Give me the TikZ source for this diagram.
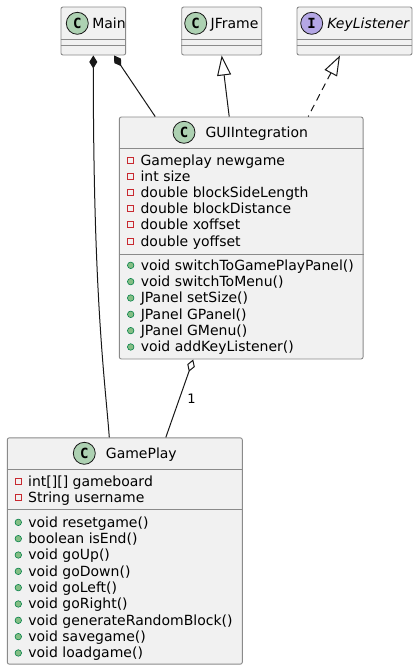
\documentclass[tikz,border=0pt]{standalone}
\usepackage{fontspec}
\setmainfont{DejaVu Sans}
\setmonofont{DejaVu Sans Mono}
\usetikzlibrary{arrows.meta}
\usetikzlibrary{positioning}
\definecolor{boxfill}{HTML}{F1F1F1}
\definecolor{boxline}{HTML}{8A8A8A}
\definecolor{lineclr}{HTML}{181818}
\definecolor{classclr}{HTML}{ADD1B2}
\definecolor{ifaceclr}{HTML}{B4A7E5}
\definecolor{privclr}{HTML}{C82930}
\definecolor{pubclr}{HTML}{038048}
\definecolor{pubfill}{HTML}{84BE84}

\tikzset{
  classbox/.style={rectangle,draw=boxline,fill=boxfill,line width=0.9pt,rounded corners=2pt,inner sep=0pt},
  sepline/.style={draw=boxline,line width=0.9pt},
  spot/.style={circle,draw=lineclr,line width=0.8pt,minimum size=22pt,inner sep=0pt,font=\ttfamily\bfseries\fontsize{14}{14}\selectfont},
  title/.style={inner sep=0pt,text height=10pt,text depth=0pt,font=\fontsize{14}{14}\selectfont},
  member/.style={inner sep=0pt,text height=10pt,text depth=0pt,font=\fontsize{14}{14}\selectfont},
  privicon/.style={rectangle,draw=privclr,line width=0.8pt,minimum size=6pt,inner sep=0pt},
  pubicon/.style={circle,draw=pubclr,fill=pubfill,line width=0.6pt,minimum size=6.5pt,inner sep=0pt},
  link/.style={draw=lineclr,line width=1pt},
}

\begin{document}
\begin{tikzpicture}[x=1pt,y=-1pt]
\fill[white] (0,0) rectangle (418,670);
\useasboundingbox (0,0) rectangle (418,670);

% top row
\node at (93.3,31)[classbox,minimum width=64.7pt,minimum height=48pt](main){};
\node at (221.7,31)[classbox,minimum width=80pt,minimum height=48pt](jframe){};
\node at (354.5,31)[classbox,minimum width=115pt,minimum height=48pt](keyl){};
\draw[sepline] (main.west |- 0,39.3) -- (main.east |- 0,39.3);
\draw[sepline] (main.west |- 0,45) -- (main.east |- 0,45);
\draw[sepline] (jframe.west |- 0,39.3) -- (jframe.east |- 0,39.3);
\draw[sepline] (jframe.west |- 0,45) -- (jframe.east |- 0,45);
\draw[sepline] (keyl.west |- 0,39.3) -- (keyl.east |- 0,39.3);
\draw[sepline] (keyl.west |- 0,45) -- (keyl.east |- 0,45);
\node at (77.3,23.3)[spot,fill=classclr](mainC){C};
\node[title,right=3.4pt of mainC](mainT){Main};
\node at (195.7,23.3)[spot,fill=classclr](jframeC){C};
\node[title,right=3.4pt of jframeC](jframeT){JFrame};
\node at (311.7,23.3)[spot,fill=ifaceclr](keylC){I};
\node[title,right=4pt of keylC,font=\itshape\fontsize{14}{14}\selectfont](keylT){KeyListener};

% GUIIntegration
\node at (241.2,238)[classbox,minimum width=243.7pt,minimum height=242pt](gui){};
\draw[sepline] (gui.west |- 0,148.3) -- (gui.east |- 0,148.3);
\draw[sepline] (gui.west |- 0,254.3) -- (gui.east |- 0,254.3);
\node at (184,132.3)[spot,fill=classclr](guiC){C};
\node[title,right=10pt of guiC](guiT){GUIIntegration};
\foreach \txt [count=\i] in {Gameplay newgame,int size,double blockSideLength,double blockDistance,double xoffset,double yoffset}{
  \node at (130.7,{143.8+16.2*\i})[privicon](gf\i){};
  \node[member,right=6.3pt of gf\i](gft\i){\txt};
}
\foreach \txt [count=\i] in {void switchToGamePlayPanel(),void switchToMenu(),JPanel setSize(),JPanel GPanel(),JPanel GMenu(),void addKeyListener()}{
  \node at (130.7,{249+16.33*\i})[pubicon](gm\i){};
  \node[member,right=6.3pt of gm\i](gmt\i){\txt};
}

% GamePlay
\node at (124.8,551)[classbox,minimum width=235pt,minimum height=226.3pt](game){};
\draw[sepline] (game.west |- 0,469) -- (game.east |- 0,469);
\draw[sepline] (game.west |- 0,509.3) -- (game.east |- 0,509.3);
\node at (84.3,453.3)[spot,fill=classclr](gameC){C};
\node[title,right=10pt of gameC](gameT){GamePlay};
\foreach \txt [count=\i] in {int[][] gameboard,String username}{
  \node at (18.3,{465+16*\i})[privicon](pf\i){};
  \node[member,right=6.3pt of pf\i](pft\i){\txt};
}
\foreach \txt [count=\i] in {void resetgame(),boolean isEnd(),void goUp(),void goDown(),void goLeft(),void goRight(),void generateRandomBlock(),void savegame(),void loadgame()}{
  \node at (18.3,{506+16.33*\i})[pubicon](pm\i){};
  \node[member,right=6.3pt of pm\i](pmt\i){\txt};
}

% connectors
\draw[link,{Diamond[length=13pt,width=8pt]}-] (main.south) .. controls (93.3,300) and (105,380) .. ([xshift=-15.5pt]game.north);
\draw[link,{Diamond[length=13pt,width=8pt]}-] ([xshift=20.7pt]main.south) -- ([xshift=-86pt]gui.north);
\draw[link,{Triangle[open,length=20pt,width=14pt]}-] (jframe.south) -- ([xshift=-12pt]gui.north);
\draw[link,dash pattern=on 7pt off 5pt,{Triangle[open,length=20pt,width=14pt]}-] ([xshift=-14.5pt]keyl.south) -- ([xshift=67pt]gui.north);
\draw[link,{Diamond[open,length=13pt,width=8pt]}-] ([xshift=-48pt]gui.south) -- ([xshift=41pt]game.north) node[pos=0.5,right=4pt,font=\fontsize{13}{13}\selectfont](one){1};
\end{tikzpicture}
\end{document}
